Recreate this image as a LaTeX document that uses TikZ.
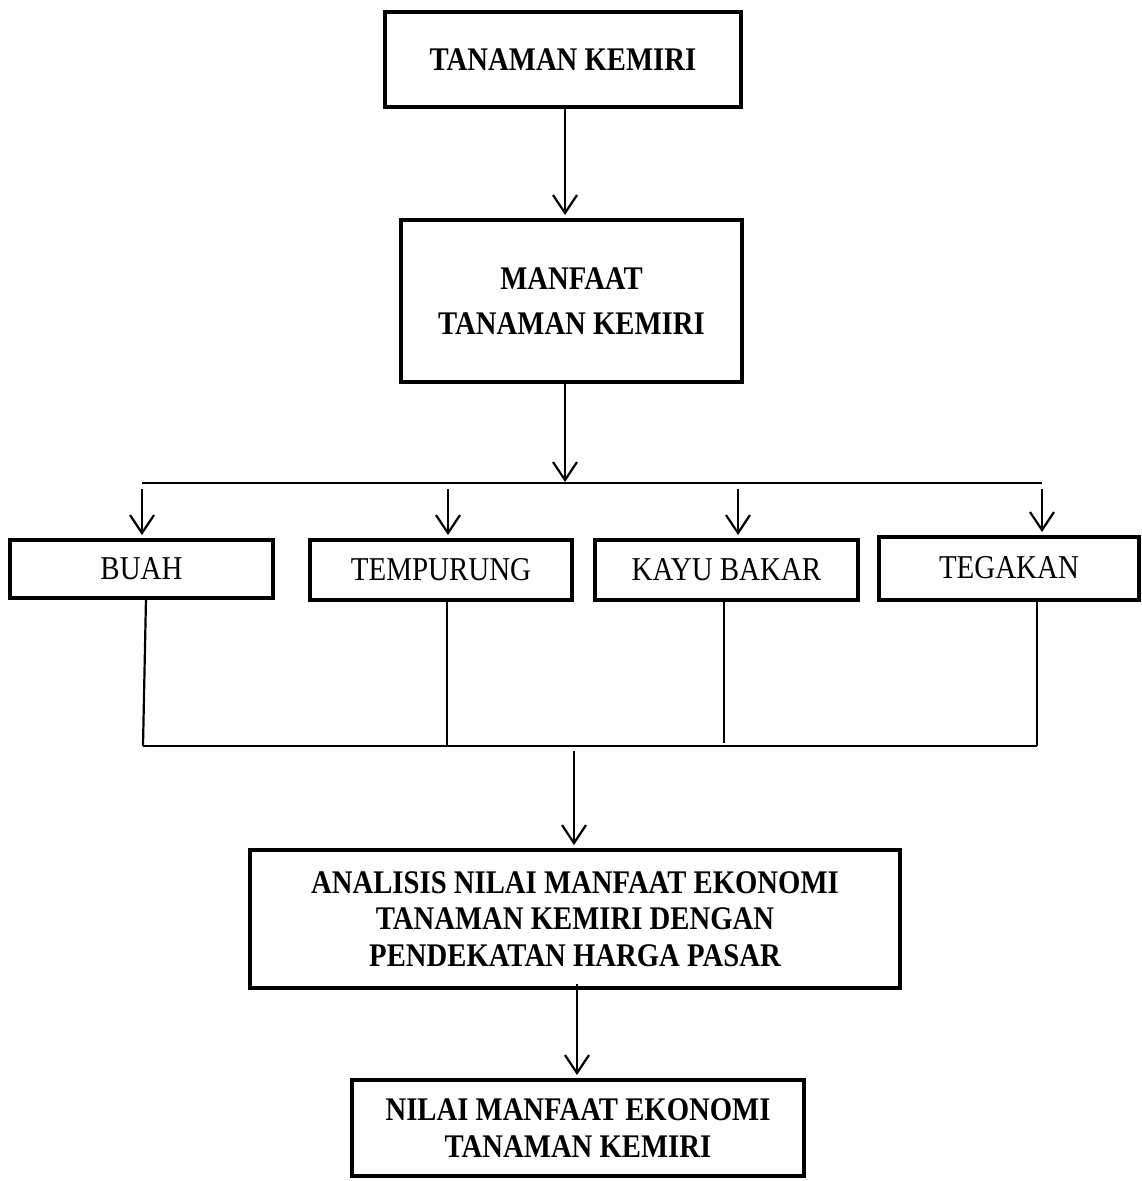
\documentclass[tikz,border=0pt]{standalone}
\usepackage{fontspec}
\setmainfont{Liberation Serif}[FakeStretch=0.87]
\usetikzlibrary{arrows.meta}
\tikzset{
  box/.style={draw=black, line width=4pt, inner sep=0pt, outer sep=0pt, align=center,
    font=\fontsize{33}{36.5}\selectfont},
  bbox/.style={box, font=\fontsize{33}{36.5}\selectfont\bfseries},
  sbox/.style={box, font=\fontsize{33.3}{35}\selectfont},
  ln/.style={draw=black, line width=2.2pt},
  arr/.style={ln, -{Straight Barb[length=18pt,width=24pt,line width=2.2pt]}, shorten >=5pt},
}
\begin{document}
\begin{tikzpicture}[x=1pt,y=-1pt]
\useasboundingbox (0,0) rectangle (1141,1181);
\fill[white] (0,0) rectangle (1141,1181);

\node[bbox, minimum width=356pt, minimum height=95pt] (b1) at (563,59.5) {TANAMAN KEMIRI};
\node[bbox, minimum width=341pt, minimum height=162pt, font=\fontsize{33}{45}\selectfont\bfseries] (b2) at (571.5,301) {MANFAAT\\TANAMAN KEMIRI};

\node[sbox, minimum width=263pt, minimum height=58pt] (buah) at (141.5,569) {BUAH};
\node[sbox, minimum width=262pt, minimum height=60pt] (temp) at (441,570) {TEMPURUNG};
\node[sbox, minimum width=263pt, minimum height=60pt] (kayu) at (726.5,570) {KAYU BAKAR};
\node[sbox, minimum width=260pt, minimum height=63pt, text depth=0pt, anchor=center] (teg) at (1009,568.5) {\raisebox{3pt}{TEGAKAN}};

\node[bbox, minimum width=650pt, minimum height=138pt] (an) at (575,919)
  {ANALISIS NILAI MANFAAT EKONOMI\\TANAMAN KEMIRI DENGAN\\PENDEKATAN HARGA PASAR};
\node[bbox, minimum width=452pt, minimum height=96pt] (ni) at (578,1128)
  {NILAI MANFAAT EKONOMI\\TANAMAN KEMIRI};

% top arrow
\draw[arr] ([xshift=2pt]b1.south) -- ([xshift=-6.5pt]b2.north);

% split
\coordinate (busL) at (142,483);
\coordinate (busM) at (565,483);
\coordinate (busR) at (1042,483);
\draw[arr, shorten >=1pt] ([xshift=-6.5pt]b2.south) -- (busM);
\draw[ln] (busL) -- (busR);

\coordinate (t1) at (142,489);
\coordinate (t2) at (448,489);
\coordinate (t3) at (738,489);
\coordinate (t4) at (1042,489);
\draw[arr] (t1) -- (t1 |- buah.north);
\draw[arr] (t2) -- (t2 |- temp.north);
\draw[arr] (t3) -- (t3 |- kayu.north);
\draw[arr] (t4) -- (t4 |- teg.north);

% merge
\coordinate (u1) at (143,746);
\coordinate (u2) at (447,746);
\coordinate (u3) at (724,743);
\coordinate (u4) at (1037,746);
\draw[ln] ([xshift=4.5pt]buah.south) -- (u1);
\draw[ln] ([xshift=6pt,yshift=2pt]temp.south) -- (u2);
\draw[ln] ([xshift=-2.5pt]kayu.south) -- (u3);
\draw[ln] ([xshift=28pt,yshift=2pt]teg.south) -- (u4);
\draw[ln] (u1) -- (u4);

\coordinate (m2) at (574,751);
\draw[arr] (m2) -- (m2 |- an.north);
\draw[arr] ([xshift=2pt,yshift=4pt]an.south) -- ([xshift=-1pt]ni.north);
\end{tikzpicture}
\end{document}
